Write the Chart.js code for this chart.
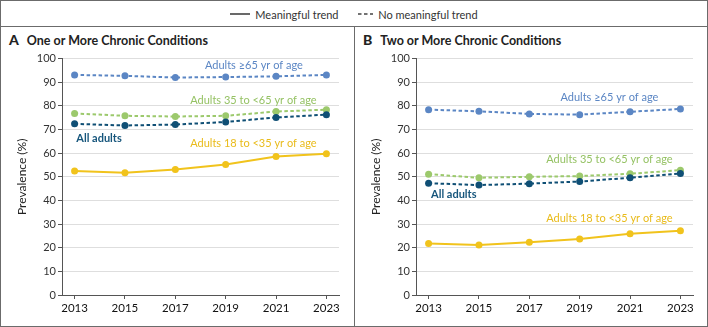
<!DOCTYPE html>
<html>
<head>
<meta charset="utf-8">
<script src="https://cdn.jsdelivr.net/npm/chart.js@4.4.1/dist/chart.umd.min.js"></script>
<style>
  body { margin: 0; background: #fff; font-family: Lato, sans-serif; }
  #fig { position: relative; width: 708px; height: 327px; overflow: hidden; }
  .frame { position: absolute; left: 0; top: 0; width: 706px; height: 325px; border: 1px solid #6b6b6b; }
  .hline { position: absolute; left: 0; top: 26px; width: 708px; height: 1px; background: #6b6b6b; }
  .vline { position: absolute; left: 354px; top: 26px; width: 1px; height: 301px; background: #6b6b6b; }
  .legend { position: absolute; top: 6px; left: 0; width: 708px; text-align: center; font-size: 11px; color: #333; }
  .legend span { vertical-align: middle; }
  .legend svg { vertical-align: middle; margin-right: 5px; }
  .panel { position: absolute; top: 27px; width: 353px; height: 298px; }
  .title { position: absolute; left: 8px; top: 4px; font-size: 12.5px; font-weight: bold; color: #222; white-space: nowrap; }
  .title b { font-size: 14px; margin-right: 8px; }
  .plot { position: absolute; left: 0; top: 23px; width: 352px; height: 275px; }
</style>
</head>
<body>
<div id="fig">
  <div class="frame"></div>
  <div class="hline"></div>
  <div class="vline"></div>
  <div class="legend">
    <svg width="20" height="4"><line x1="0" y1="2" x2="20" y2="2" stroke="#444" stroke-width="1.6"/></svg><span>Meaningful trend</span>
    <span style="display:inline-block;width:14px"></span>
    <svg width="15" height="4"><line x1="0" y1="2" x2="15" y2="2" stroke="#444" stroke-width="1.6" stroke-dasharray="3.5,2.5"/></svg><span>No meaningful trend</span>
  </div>
  <div class="panel" style="left:1px">
    <div class="title"><b>A</b>One or More Chronic Conditions</div>
    <div class="plot"><canvas id="chartA" width="352" height="275"></canvas></div>
  </div>
  <div class="panel" style="left:355px">
    <div class="title"><b>B</b>Two or More Chronic Conditions</div>
    <div class="plot"><canvas id="chartB" width="352" height="275"></canvas></div>
  </div>
</div>
<script>
// survey years and prevalence (%) by age group
const years = [2013, 2015, 2017, 2019, 2021, 2023];
const seriesNames = ['All adults', 'Adults ≥65 yr of age', 'Adults 35 to <65 yr of age', 'Adults 18 to <35 yr of age'];
const seriesColors = ['#0f4f75', '#5b86c4', '#9cc96c', '#f1c31c'];
const textColors = ['#17567c', '#5b86c4', '#95c264', '#e9bb1a'];
const meaningful = [false, false, false, true];

// one or more chronic conditions
const oneAll = [72.4, 71.7, 72.1, 73.2, 75.1, 76.3];
const oneOlder = [93.1, 92.7, 92.0, 92.2, 92.5, 93.1];
const oneMiddle = [76.8, 75.8, 75.5, 75.8, 77.6, 78.4];
const oneYoung = [52.5, 51.7, 53.1, 55.2, 58.6, 59.7];

// two or more chronic conditions
const twoAll = [47.3, 46.5, 47.1, 48.0, 49.6, 51.4];
const twoOlder = [78.4, 77.7, 76.6, 76.3, 77.5, 78.7];
const twoMiddle = [51.1, 49.6, 50.0, 50.3, 51.3, 52.8];
const twoYoung = [21.8, 21.1, 22.3, 23.7, 25.9, 27.2];

const yTicks = [0, 10, 20, 30, 40, 50, 60, 70, 80, 90, 100];

// writes each group's name next to its line
const seriesLabels = {
    id: 'seriesLabels',
    afterDatasetsDraw(chart, args, opts) {
        const ctx = chart.ctx;
        const x = chart.scales.x, y = chart.scales.y;
        ctx.save();
        ctx.textAlign = 'center';
        ctx.textBaseline = 'middle';
        opts.items.forEach((it, i) => {
            ctx.font = (i === 0 ? 'bold ' : '') + '11px Lato';
            ctx.fillStyle = textColors[i];
            ctx.fillText(seriesNames[i], x.getPixelForValue(it[0]), y.getPixelForValue(it[1]));
        });
        ctx.restore();
    }
};

function makeChart(id, rows, labelAt) {
    const datasets = rows.map((vals, i) => ({
        label: seriesNames[i],
        data: vals.map((v, k) => ({ x: years[k], y: v })),
        borderColor: seriesColors[i],
        backgroundColor: seriesColors[i],
        borderWidth: 2,
        borderDash: meaningful[i] ? [] : [3.5, 2.5],
        pointRadius: 3.5,
        pointBorderWidth: 0,
        tension: 0,
        order: i
    }));
    return new Chart(document.getElementById(id), {
        type: 'line',
        data: { datasets: datasets },
        plugins: [seriesLabels],
        options: {
            responsive: false,
            animation: false,
            devicePixelRatio: 1,
            layout: { padding: { top: 8, right: 14, bottom: 0, left: 0 } },
            plugins: {
                legend: { display: false },
                tooltip: { enabled: false },
                seriesLabels: { items: labelAt }
            },
            scales: {
                x: {
                    type: 'linear',
                    min: 2012.5,
                    max: 2023.5,
                    afterBuildTicks: s => { s.ticks = years.map(v => ({ value: v })); },
                    afterFit: s => { s.height = 30; },
                    ticks: { callback: v => String(v), color: '#111', font: { family: 'Lato', size: 11.5 }, padding: 2, maxRotation: 0 },
                    grid: { drawOnChartArea: false, tickColor: '#555', tickLength: 4 },
                    border: { color: '#555' }
                },
                y: {
                    min: 0,
                    max: 100,
                    afterBuildTicks: s => { s.ticks = yTicks.map(v => ({ value: v })); },
                    afterFit: s => { s.width = 61; },
                    ticks: { color: '#333', font: { family: 'Lato', size: 11 }, padding: 2 },
                    grid: { color: '#dedede', tickColor: '#555', tickLength: 4 },
                    border: { color: '#555' },
                    title: { display: true, text: 'Prevalence (%)', color: '#222', font: { family: 'Lato', size: 12 }, padding: { top: 14 } }
                }
            }
        }
    });
}

makeChart('chartA', [oneAll, oneOlder, oneMiddle, oneYoung],
    [[2013.97, 66.3], [2020.12, 97.2], [2020.1, 82.4], [2020.1, 64.2]]);
makeChart('chartB', [twoAll, twoOlder, twoMiddle, twoYoung],
    [[2014.0, 42.7], [2020.18, 83.7], [2020.18, 57.5], [2020.18, 32.5]]);
</script>
</body>
</html>
